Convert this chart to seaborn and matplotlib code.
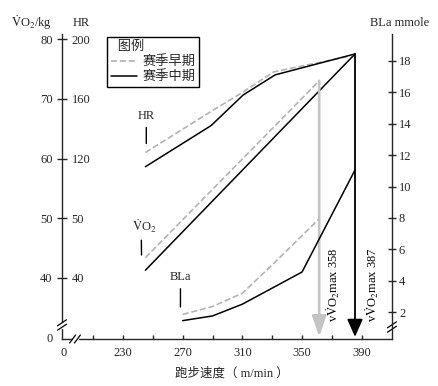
import matplotlib
matplotlib.use('Agg')
import matplotlib.pyplot as plt
import seaborn as sns

# values (speed in m/min)
hr_speed_early = [245, 289, 310.5, 331, 382]
hr_early = [124, 151.5, 164.5, 178, 188.5]
hr_speed_mid = [245, 289, 310.5, 332, 385.5]
hr_mid = [114.5, 142, 162.5, 176, 190]

vo2_speed_early = [245, 361.5]
vo2_early = [43.4, 73.0]
vo2_speed_mid = [245, 385.5]
vo2_mid = [41.3, 77.5]

bla_speed_early = [270, 290, 310, 330, 361]
bla_early = [1.85, 2.35, 3.2, 5.0, 7.9]
bla_speed_mid = [270, 290, 310, 350, 385.5]
bla_mid = [1.45, 1.75, 2.5, 4.55, 11.05]

vmax_speed = [361.5, 385.5]
vmax_labels = ['358', '387']

x_ticks = [190.3, 210, 230, 250, 270, 290, 310, 330, 350, 370, 390]
x_tick_labels = ['0', '', '230', '', '270', '', '310', '', '350', '', '390']
vo2_ticks = [30.1, 40, 50, 60, 70, 80]
vo2_tick_labels = ['0', '40', '50', '60', '70', '80']
hr_ticks = [40, 80, 120, 160, 200]
hr_tick_labels = ['40', '50', '120', '160', '200']
bla_ticks = [2, 4, 6, 8, 10, 12, 14, 16, 18]

sns.set_theme(style='ticks')
plt.rcParams['font.family'] = ['Liberation Serif', 'Noto Sans CJK SC']
plt.rcParams['mathtext.fontset'] = 'stix'
plt.rcParams['axes.linewidth'] = 1.0

GRAY = '#b3b3b3'
ARROW_GRAY = '#c4c4c4'
FS = 9

fig = plt.figure(figsize=(4.38, 3.86), dpi=100)
ax = fig.add_axes([62 / 438, 47 / 386, 330 / 438, 305 / 386])
ax_hr = ax.twinx()
ax_bla = ax.twinx()

ax.set_xlim(189.1, 410.3)
ax.set_ylim(29.79, 80.84)
ax_hr.set_ylim(-0.84, 203.35)
ax_bla.set_ylim(0.28, 19.72)

# lines
sns.lineplot(x=hr_speed_early, y=hr_early, ax=ax_hr, color=GRAY, lw=1.2, dashes=(4, 2.5), linestyle='--')
sns.lineplot(x=hr_speed_mid, y=hr_mid, ax=ax_hr, color='black', lw=1.1)
sns.lineplot(x=vo2_speed_early, y=vo2_early, ax=ax, color=GRAY, lw=1.2, dashes=(4, 2.5), linestyle='--')
sns.lineplot(x=vo2_speed_mid, y=vo2_mid, ax=ax, color='black', lw=1.1)
sns.lineplot(x=bla_speed_early, y=bla_early, ax=ax_bla, color=GRAY, lw=1.2, dashes=(4, 2.5), linestyle='--')
sns.lineplot(x=bla_speed_mid, y=bla_mid, ax=ax_bla, color='black', lw=1.1)

# vVO2max arrows
arrow_tops = [vo2_early[-1], vo2_mid[-1]]
arrow_cols = [ARROW_GRAY, 'black']
arrow_lw = [1.9, 1.3]
arrow_heads = ['-|>,head_length=1.05,head_width=0.36', '-|>,head_length=0.9,head_width=0.4']
for s, top, c, lw, hs, lab, dx in zip(vmax_speed, arrow_tops, arrow_cols, arrow_lw,
                                        arrow_heads, vmax_labels, [9.2, 11.4]):
    ax.annotate('', xy=(s, 30.15), xytext=(s, top),
                arrowprops=dict(arrowstyle=hs, color=c, lw=lw, shrinkA=0, shrinkB=0))
    ax.text(s + dx, 32.6, r'v$\dot{\mathrm{V}}$O$_2$max ' + lab, rotation=90,
            ha='center', va='bottom', fontsize=FS, color='black')

# curve labels with pointer lines
ptr = dict(arrowstyle='-', color='black', lw=1.0, shrinkA=1.5, shrinkB=0)
ax.annotate('HR', xy=(245.6, 62.5), xytext=(245.6, 67.1), ha='center', va='center',
            fontsize=FS, arrowprops=dict(ptr, relpos=(0.5, 0)))
ax.annotate(r'$\dot{\mathrm{V}}$O$_2$', xy=(242.4, 43.85), xytext=(243.9, 48.7),
            ha='center', va='center', fontsize=FS, arrowprops=dict(ptr, relpos=(0.4, 0)))
ax.annotate('BLa', xy=(268.5, 35.15), xytext=(268.5, 40.1), ha='center', va='center',
            fontsize=FS, arrowprops=dict(ptr, relpos=(0.5, 0)))

# axes styling
ax.set_xticks(x_ticks)
ax.set_xticklabels(x_tick_labels)
ax.set_yticks(vo2_ticks)
ax.set_yticklabels(vo2_tick_labels)
ax.tick_params(axis='x', direction='in', length=3.2, width=1.0, labelsize=FS, pad=6)
ax.tick_params(axis='y', direction='inout', length=7.2, width=1.0, labelsize=FS, pad=3.2)
ax.xaxis.get_major_ticks()[0].tick1line.set_visible(False)
ax.yaxis.get_major_ticks()[0].tick1line.set_visible(False)
ax.spines['top'].set_visible(False)
ax.spines['right'].set_visible(False)
ax.set_xlabel('跑步速度（ m/min ）', fontsize=FS)
ax.xaxis.set_label_coords(0.515, -0.093)

ax_hr.spines['right'].set_position(('axes', 0))
for sp in ax_hr.spines.values():
    sp.set_visible(False)
ax_hr.set_yticks(hr_ticks)
ax_hr.set_yticklabels(hr_tick_labels)
ax_hr.tick_params(axis='y', length=0, labelsize=FS, pad=7)

for sp in ['top', 'left', 'bottom']:
    ax_bla.spines[sp].set_visible(False)
ax_bla.set_yticks(bla_ticks)
ax_bla.tick_params(axis='y', direction='inout', length=6, width=1.0, labelsize=FS, pad=2)

# axis titles
ax.text(-0.03, 1.036, r'$\dot{\mathrm{V}}$O$_2$/kg', transform=ax.transAxes,
        ha='right', va='center', fontsize=FS)
ax.text(0.033, 1.036, 'HR', transform=ax.transAxes, ha='left', va='center', fontsize=FS)
ax.text(1.024, 1.036, 'BLa mmole', transform=ax.transAxes, ha='center', va='center', fontsize=FS)

# axis break marks
def brk(x0, y0, vertical):
    px, py = 1 / 330, 1 / 305
    if vertical:
        ax.plot([x0, x0], [y0 - 1.5 * py, y0 + 1.5 * py], color='white', lw=2.5,
                transform=ax.transAxes, clip_on=False, zorder=5)
        for d in (-2.2, 2.2):
            ax.plot([x0 - 4.5 * px, x0 + 4.5 * px], [y0 + d * py - 3 * py, y0 + d * py + 3 * py],
                    color='black', lw=0.9, transform=ax.transAxes, clip_on=False, zorder=6)
    else:
        ax.plot([x0 - 1.5 * px, x0 + 1.5 * px], [y0, y0], color='white', lw=2.5,
                transform=ax.transAxes, clip_on=False, zorder=5)
        for d in (-2.4, 2.4):
            ax.plot([x0 + d * px - 3 * px, x0 + d * px + 3 * px], [y0 - 4 * py, y0 + 4 * py],
                    color='black', lw=0.9, transform=ax.transAxes, clip_on=False, zorder=6)

brk(0, 14 / 305, True)
brk(13 / 330, 0, False)
brk(1, 12 / 305, True)

leg_handles = ax_hr.get_lines()[:2]
leg = ax_bla.legend(leg_handles, ['赛季早期', '赛季中期'], title='  图例', loc='upper left',
                    bbox_to_anchor=(0.136, 0.99), fontsize=FS + 0.5, title_fontsize=FS + 0.5,
                    frameon=True, fancybox=False, edgecolor='black', framealpha=1,
                    handlelength=2.0, handletextpad=0.4, labelspacing=0.15,
                    borderpad=0.3, borderaxespad=0, alignment='left')
leg.get_frame().set_linewidth(1.0)

fig.savefig('out.png', dpi=100)
